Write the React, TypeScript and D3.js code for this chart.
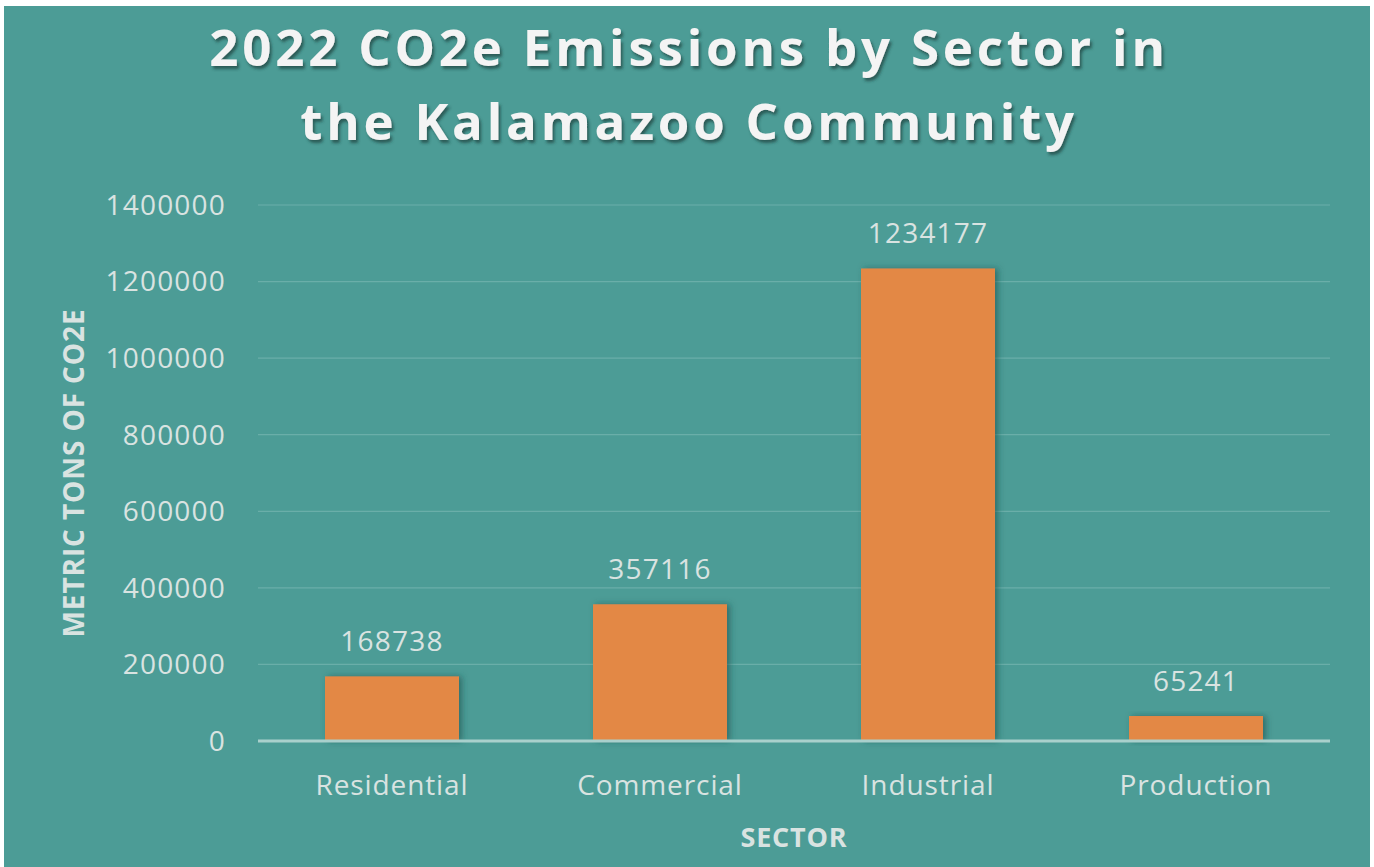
import React from "react";
import * as d3 from "d3";

const sectors = ["Residential", "Commercial", "Industrial", "Production"];
const emissions = [168738, 357116, 1234177, 65241];
const yTicks = [0, 200000, 400000, 600000, 800000, 1000000, 1200000, 1400000];
const titleLines = ["2022 CO2e Emissions by Sector in", "the Kalamazoo Community"];

export default function App() {
  const width = 1374;
  const height = 867;
  const margin = { top: 205, right: 44, bottom: 126, left: 258 };
  const font = "'Open Sans', sans-serif";
  const textColor = "#d9e3e1";

  const x = d3
    .scaleBand()
    .domain(sectors)
    .range([margin.left, width - margin.right])
    .paddingInner(0.5)
    .paddingOuter(0.25);

  const y = d3
    .scaleLinear()
    .domain([0, 1400000])
    .range([height - margin.bottom, margin.top]);

  const baseY = y(0);
  const midX = (margin.left + width - margin.right) / 2;

  return (
    <svg
      width={width}
      height={height}
      style={{ position: "absolute", left: 0, top: 0 }}
    >
      <defs>
        <filter id="barShadow" x="-20%" y="-20%" width="140%" height="140%">
          <feDropShadow dx="3" dy="0" stdDeviation="3" floodColor="#1d4f4b" floodOpacity="0.6" />
        </filter>
        <filter id="titleShadow" x="-5%" y="-20%" width="110%" height="150%">
          <feDropShadow dx="2" dy="3" stdDeviation="1.5" floodColor="#1f3f3c" floodOpacity="0.7" />
        </filter>
      </defs>
      <rect x={0} y={0} width={width} height={height} fill="#ffffff" />
      <rect x={4} y={6} width={width - 8} height={height - 6} fill="#4c9c96" />

      {/* title */}
      {titleLines.map((t, i) => (
        <text
          key={t}
          x={width / 2 + 2}
          y={66 + i * 74}
          textAnchor="middle"
          fontFamily={font}
          fontWeight="bold"
          fontSize={51}
          letterSpacing={3.8}
          fill="#f4f4f4"
          filter="url(#titleShadow)"
        >
          {t}
        </text>
      ))}

      {/* gridlines + y tick labels */}
      {yTicks.map((t) => (
        <g key={t}>
          {t > 0 && (
            <line
              x1={margin.left}
              x2={width - margin.right}
              y1={y(t)}
              y2={y(t)}
              stroke="#6aaea9"
              strokeWidth={1.2}
            />
          )}
          <text
            x={226}
            y={y(t)}
            dy="0.35em"
            textAnchor="end"
            fontFamily={font}
            fontSize={28}
            letterSpacing={1.2}
            fill={textColor}
          >
            {t}
          </text>
        </g>
      ))}

      {/* bars */}
      {sectors.map((s, i) => (
        <g key={s}>
          <rect
            x={x(s)}
            y={y(emissions[i])}
            width={x.bandwidth()}
            height={baseY - y(emissions[i])}
            fill="#e38845"
            filter="url(#barShadow)"
          />
          <text
            x={(x(s) as number) + x.bandwidth() / 2}
            y={y(emissions[i]) - 25}
            textAnchor="middle"
            fontFamily={font}
            fontSize={28}
            letterSpacing={1.2}
            fill={textColor}
          >
            {emissions[i]}
          </text>
          <text
            x={(x(s) as number) + x.bandwidth() / 2}
            y={baseY + 54}
            textAnchor="middle"
            fontFamily={font}
            fontSize={28}
            letterSpacing={0.9}
            fill={textColor}
          >
            {s}
          </text>
        </g>
      ))}

      {/* baseline */}
      <line
        x1={margin.left}
        x2={width - margin.right}
        y1={baseY}
        y2={baseY}
        stroke="#a9d0cc"
        strokeWidth={3}
      />

      {/* axis titles */}
      <text
        x={midX}
        y={847}
        textAnchor="middle"
        fontFamily={font}
        fontWeight="bold"
        fontSize={27}
        letterSpacing={0.8}
        fill={textColor}
      >
        SECTOR
      </text>
      <text
        transform={`translate(84,${(margin.top + baseY) / 2}) rotate(-90)`}
        textAnchor="middle"
        fontFamily={font}
        fontWeight="bold"
        fontSize={28}
        letterSpacing={0.9}
        fill={textColor}
      >
        METRIC TONS OF CO2E
      </text>
    </svg>
  );
}
